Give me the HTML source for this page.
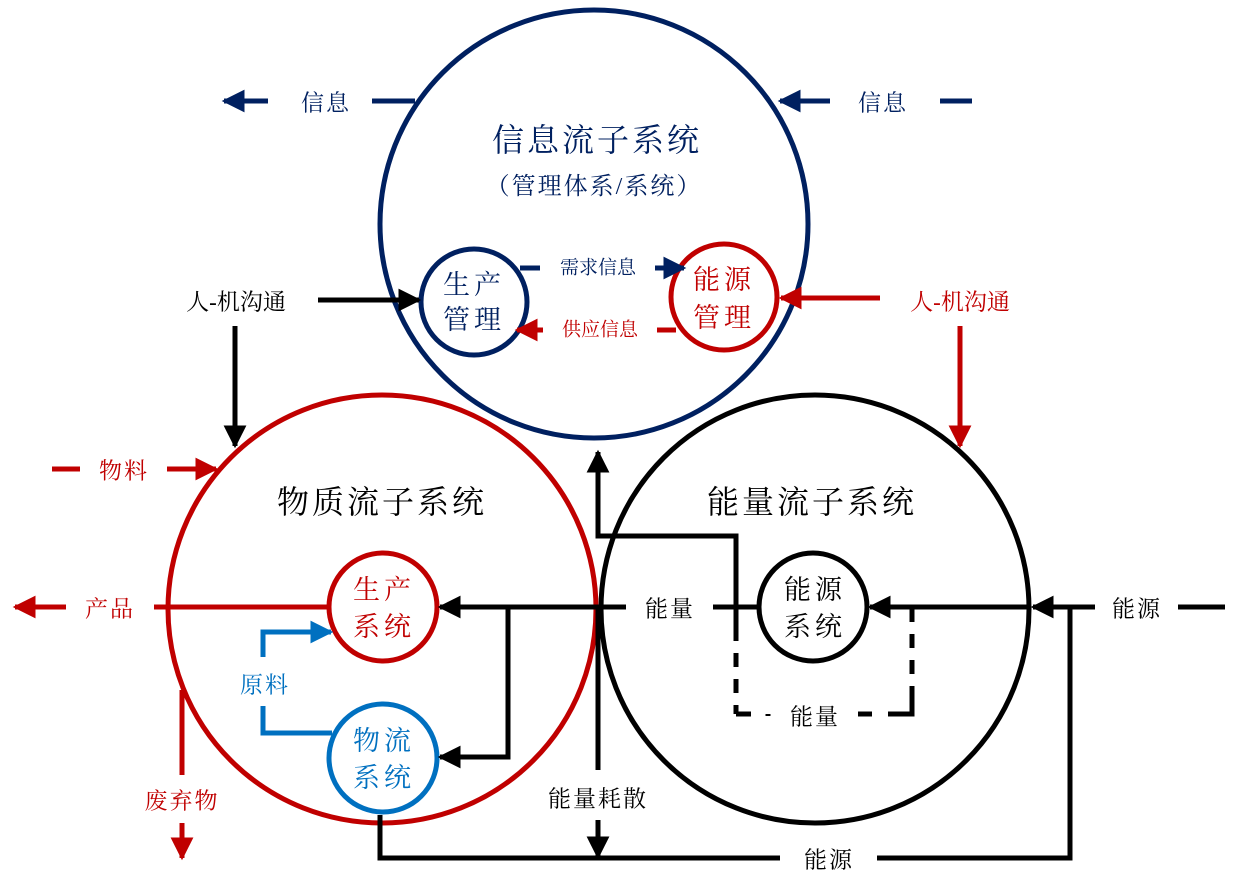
<!DOCTYPE html>
<html><head><meta charset="utf-8"><style>
html,body{margin:0;padding:0;background:#fff}
svg{display:block}
text{font-family:"Liberation Serif","Noto Serif CJK SC",serif;text-anchor:middle;dominant-baseline:central}
</style></head><body>
<svg width="1249" height="887" viewBox="0 0 1249 887" xmlns="http://www.w3.org/2000/svg">
<defs>
<marker id="ak" viewBox="0 0 10 10" refX="9" refY="5" markerWidth="4.6" markerHeight="4.6" orient="auto"><path d="M0,0L10,5L0,10z" fill="#000"/></marker>
<marker id="ar" viewBox="0 0 10 10" refX="9" refY="5" markerWidth="4.6" markerHeight="4.6" orient="auto"><path d="M0,0L10,5L0,10z" fill="#c00000"/></marker>
<marker id="an" viewBox="0 0 10 10" refX="9" refY="5" markerWidth="4.6" markerHeight="4.6" orient="auto"><path d="M0,0L10,5L0,10z" fill="#002060"/></marker>
<marker id="ab" viewBox="0 0 10 10" refX="9" refY="5" markerWidth="4.6" markerHeight="4.6" orient="auto"><path d="M0,0L10,5L0,10z" fill="#0070c0"/></marker>
</defs>
<g fill="none" stroke-width="5">
<circle cx="594" cy="224" r="214" stroke="#002060"/>
<circle cx="382" cy="609" r="214" stroke="#c00000"/>
<circle cx="815" cy="609" r="214" stroke="#000"/>
<circle cx="474" cy="302" r="53" stroke="#002060"/>
<circle cx="724" cy="297" r="53" stroke="#c00000"/>
<circle cx="383" cy="607" r="54" stroke="#c00000"/>
<circle cx="383" cy="758" r="54" stroke="#0070c0"/>
<circle cx="813" cy="607" r="54" stroke="#000"/>

<path d="M415,101H372" stroke="#002060"/>
<path d="M268,101H224" stroke="#002060" marker-end="url(#an)"/>
<path d="M830,101H780" stroke="#002060" marker-end="url(#an)"/>
<path d="M940,101H972" stroke="#002060"/>
<path d="M520,268H540" stroke="#002060"/>
<path d="M655,268H684" stroke="#002060" marker-end="url(#an)"/>
<path d="M676,330H657" stroke="#c00000"/>
<path d="M543,330H517" stroke="#c00000" marker-end="url(#ar)"/>
<path d="M318,300H419" stroke="#000" marker-end="url(#ak)"/>
<path d="M235,326V446" stroke="#000" marker-end="url(#ak)"/>
<path d="M880,298H781" stroke="#c00000" marker-end="url(#ar)"/>
<path d="M960,326V446" stroke="#c00000" marker-end="url(#ar)"/>
<path d="M52,469H80" stroke="#c00000"/>
<path d="M167,469H216" stroke="#c00000" marker-end="url(#ar)"/>
<path d="M329,607H154" stroke="#c00000"/>
<path d="M66,607H15" stroke="#c00000" marker-end="url(#ar)"/>
<path d="M182,690V775" stroke="#c00000"/>
<path d="M182,823V858" stroke="#c00000" marker-end="url(#ar)"/>
<path d="M332,733H263V706" stroke="#0070c0"/>
<path d="M263,657V632H331" stroke="#0070c0" marker-end="url(#ab)"/>
<path d="M1225,607H1178" stroke="#000"/>
<path d="M1095,607H1033" stroke="#000" marker-end="url(#ak)"/>
<path d="M1070,607V858H877" stroke="#000"/>
<path d="M780,858H380V815" stroke="#000"/>
<path d="M1031,607H870" stroke="#000" marker-end="url(#ak)"/>
<path d="M760,607H713" stroke="#000"/>
<path d="M626,607H440" stroke="#000" marker-end="url(#ak)"/>
<path d="M508,607V757H440" stroke="#000" marker-end="url(#ak)"/>
<path d="M598,770V607" stroke="#000"/>
<path d="M598,820V857" stroke="#000" marker-end="url(#ak)"/>
<path d="M736,627V536H598V452" stroke="#000" marker-end="url(#ak)"/>
<path d="M736,627V714" stroke="#000" stroke-dasharray="14,12"/>
<path d="M736,714H751M768,714V716M858,714H872M888,714H912V700" stroke="#000"/>
<path d="M912,700V607" stroke="#000" stroke-dasharray="14,12"/>
</g>
<g font-size="32">
<text x="597" y="140" fill="#002060" letter-spacing="3">信息流子系统</text>
<text x="382" y="502" fill="#000" letter-spacing="3">物质流子系统</text>
<text x="812" y="502" fill="#000" letter-spacing="3">能量流子系统</text>
</g>
<text x="594" y="187" font-size="24" fill="#002060" letter-spacing="2">（管理体系/系统）</text>
<g font-size="27">
<text x="474" y="285" fill="#002060" letter-spacing="4">生产</text>
<text x="474" y="320" fill="#002060" letter-spacing="4">管理</text>
<text x="724" y="280" fill="#c00000" letter-spacing="4">能源</text>
<text x="724" y="318" fill="#c00000" letter-spacing="4">管理</text>
<text x="384" y="590" fill="#c00000" letter-spacing="4">生产</text>
<text x="384" y="627" fill="#c00000" letter-spacing="4">系统</text>
<text x="384" y="741" fill="#0070c0" letter-spacing="4">物流</text>
<text x="384" y="778" fill="#0070c0" letter-spacing="4">系统</text>
<text x="815" y="590" fill="#000" letter-spacing="4">能源</text>
<text x="815" y="627" fill="#000" letter-spacing="4">系统</text>
</g>
<g font-size="19">
<text x="598" y="268" fill="#002060">需求信息</text>
<text x="600" y="330" fill="#c00000">供应信息</text>
</g>
<g font-size="23">
<text x="326" y="103" fill="#002060" letter-spacing="2">信息</text>
<text x="883" y="103" fill="#002060" letter-spacing="2">信息</text>
<text x="236" y="302" fill="#000">人-机沟通</text>
<text x="960" y="302" fill="#c00000">人-机沟通</text>
<text x="124" y="471" fill="#c00000" letter-spacing="2">物料</text>
<text x="110" y="609" fill="#c00000" letter-spacing="2">产品</text>
<text x="182" y="801" fill="#c00000" letter-spacing="2">废弃物</text>
<text x="265" y="685" fill="#0070c0" letter-spacing="2">原料</text>
<text x="670" y="609" fill="#000" letter-spacing="2">能量</text>
<text x="1137" y="609" fill="#000" letter-spacing="2">能源</text>
<text x="815" y="717" fill="#000" letter-spacing="2">能量</text>
<text x="598" y="799" fill="#000" letter-spacing="2">能量耗散</text>
<text x="829" y="860" fill="#000" letter-spacing="2">能源</text>
</g>
</svg>
</body></html>
